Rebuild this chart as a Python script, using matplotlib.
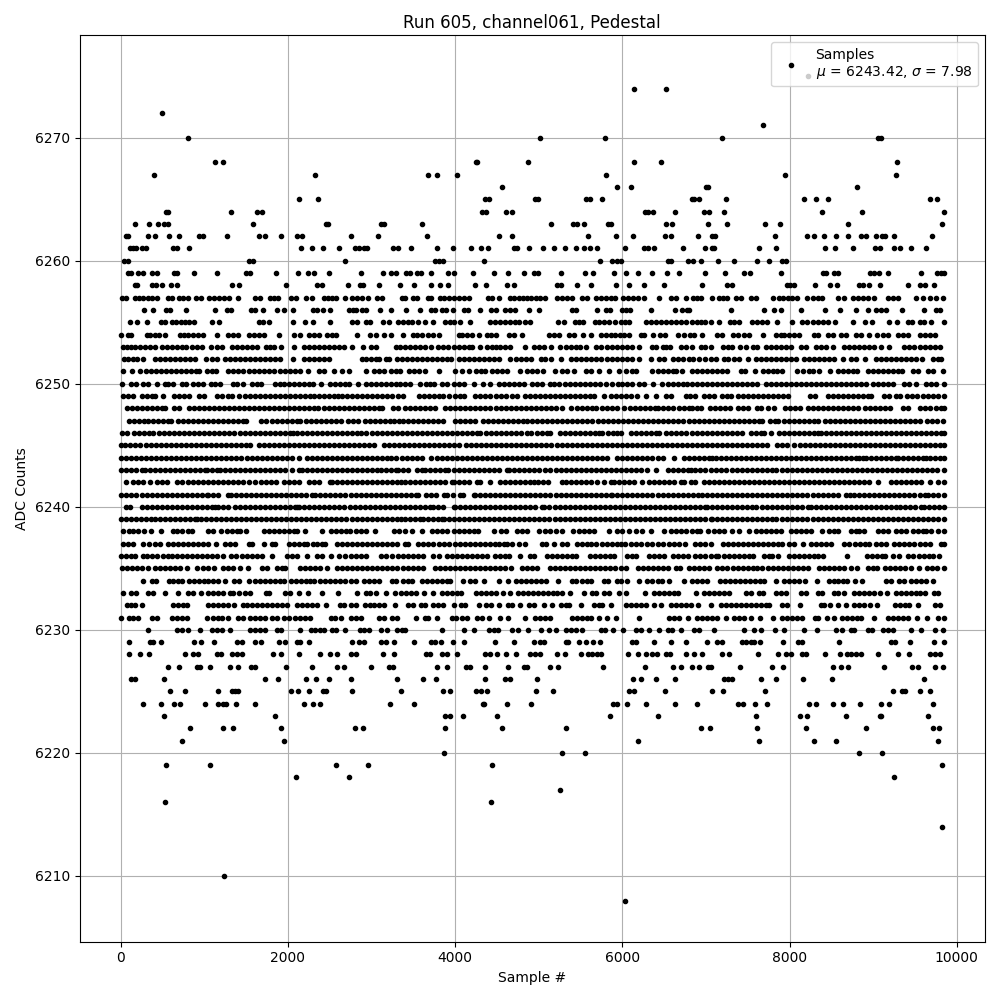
import numpy as np
import matplotlib
matplotlib.use("Agg")
import matplotlib.pyplot as plt

# sample numbers, one list per ADC code
adc_6208 = [6030]
adc_6210 = [1241]
adc_6214 = [9822]
adc_6216 = [533, 4433]
adc_6217 = [5250]
adc_6218 = [2093, 2729, 9246]
adc_6219 = [545, 1073, 2573, 2957, 4445, 9822]
adc_6220 = [3869, 5274, 5550, 8826, 9102]
adc_6221 = [737, 1949, 6186, 7638, 8298, 8562, 9774]
adc_6222 = [833, 1229, 1349, 1913, 2801, 2897, 3881, 4565, 5322, 6942, 7050, 7614, 8202, 8910, 9714, 9786]
adc_6223 = [521, 1841, 3881, 3941, 4097, 4505, 5850, 6426, 7602, 8130, 8214, 8670, 9078, 9098, 9654]
adc_6224 = [269, 485, 641, 713, 1013, 1169, 1229, 1265, 1385, 1601, 2189, 2297, 2381, 3221, 3509, 4337, 4349, 4625, 4913,
            5886, 5934, 6054, 6282, 6630, 6894, 7386, 7446, 7590, 7734, 8238, 8322, 8526, 8634, 8838, 9090, 9186, 9714]
adc_6225 = [593, 773, 1169, 1337, 1373, 1409, 2033, 2117, 2249, 2417, 2453, 2765, 3353, 3857, 3941, 4253, 4313, 4385, 4973,
            5166, 6078, 6138, 6510, 7074, 7206, 7710, 9234, 9342, 9378, 9558, 9678]
adc_6226 = [129, 177, 521, 1721, 1877, 2213, 2333, 2489, 2753, 3305, 3621, 3777, 4353, 4601, 4653, 4977, 6129, 6225, 6405,
            6633, 7215, 7267, 7315, 7659, 7839, 8163, 8511, 9603]
adc_6227 = [569, 701, 909, 949, 1073, 1313, 1409, 1561, 1609, 1973, 2285, 2589, 2669, 2993, 3209, 3261, 3789, 3901, 4133,
            4173, 4361, 4629, 4821, 4861, 5133, 5233, 5769, 6273, 6609, 6705, 6835, 6915, 7023, 7055, 7407, 7791, 7923,
            8523, 8619, 8703, 9135, 9471, 9535, 9735, 9831]
adc_6228 = [101, 229, 337, 773, 861, 929, 1149, 1201, 1329, 1389, 1449, 1821, 1913, 2129, 2381, 2501, 2585, 2749, 2809,
            3141, 3269, 3653, 3701, 3841, 3901, 4025, 4361, 4413, 4497, 4605, 4725, 4901, 4961, 5013, 5217, 5313, 5501,
            5589, 5641, 5693, 5741, 6069, 6189, 6281, 6361, 6413, 6521, 6573, 6759, 6855, 6951, 7191, 7279, 7627, 7863,
            7955, 8023, 8155, 8195, 8419, 8607, 8687, 8735, 8795, 8859, 9059, 9299, 9435, 9675, 9735, 9795]
adc_6229 = [101, 349, 389, 485, 881, 961, 1121, 1397, 1449, 1601, 1673, 1897, 1969, 2109, 2149, 2249, 2765, 2849, 2909,
            3109, 3169, 3269, 3513, 3709, 3761, 3829, 3969, 4101, 4473, 4701, 4941, 5013, 5069, 5321, 5349, 5481, 5565,
            5649, 5733, 6121, 6161, 6381, 6585, 6767, 7015, 7127, 7195, 7435, 7475, 7535, 7575, 7647, 7923, 8103, 8155,
            8595, 9215, 9267, 9447, 9723, 9843]
adc_6230 = [329, 677, 737, 809, 953, 1089, 1149, 1209, 1309, 1549, 1609, 1669, 1729, 1869, 1917, 2141, 2277, 2329, 2389,
            2437, 2529, 2581, 2681, 2861, 2909, 2969, 3117, 3181, 3309, 3361, 3401, 3849, 4101, 4221, 4401, 4461, 4509,
            4681, 4749, 4869, 5025, 5121, 5201, 5329, 5381, 5441, 5517, 5741, 5789, 5893, 6009, 6161, 6221, 6321, 6441,
            6541, 6589, 6705, 6855, 6915, 7095, 7451, 7575, 7659, 7827, 7935, 8175, 8331, 8559, 8623, 8735, 8775, 8935,
            8983, 9115, 9175, 9235, 9459, 9571, 9735, 9831]
adc_6231 = [0, 101, 149, 209, 377, 429, 617, 677, 737, 789, 1029, 1101, 1161, 1209, 1289, 1409, 1469, 1549, 1609, 1669,
            1729, 1809, 1869, 1949, 2009, 2089, 2149, 2209, 2269, 2517, 2569, 2637, 2757, 2809, 2869, 3089, 3149, 3249,
            3309, 3529, 3641, 3681, 3785, 3961, 4009, 4081, 4141, 4261, 4321, 4401, 4537, 4629, 4833, 4953, 5021, 5081,
            5141, 5401, 5461, 5521, 5581, 5621, 5721, 5817, 5925, 6201, 6561, 6621, 6681, 6781, 6895, 6955, 7015, 7075,
            7135, 7243, 7335, 7395, 7455, 7535, 7647, 7803, 7915, 7975, 8035, 8095, 8155, 8303, 8343, 8443, 8535, 8623,
            8683, 8743, 8803, 8855, 9015, 9175, 9235, 9295, 9355, 9415, 9519, 9639, 9775, 9843]
adc_6232 = [77, 129, 169, 249, 629, 689, 749, 797, 1049, 1109, 1169, 1229, 1289, 1361, 1461, 1509, 1569, 1629, 1689, 1749,
            1809, 1869, 1929, 1989, 2109, 2169, 2229, 2289, 2349, 2457, 2621, 2669, 2749, 2809, 2917, 2977, 3029, 3089,
            3149, 3277, 3441, 3493, 3589, 3641, 3741, 3801, 3861, 3981, 4069, 4121, 4281, 4373, 4429, 4521, 4629, 4681,
            4781, 4881, 4949, 5061, 5165, 5261, 5321, 5361, 5505, 5661, 5721, 5761, 5865, 6041, 6101, 6161, 6221, 6281,
            6381, 6465, 6581, 6641, 6701, 6761, 6823, 6903, 7059, 7183, 7243, 7303, 7363, 7423, 7483, 7543, 7603, 7663,
            7723, 7755, 7915, 7975, 8127, 8375, 8415, 8487, 8583, 8679, 8775, 8835, 8887, 8967, 9051, 9263, 9323, 9383,
            9435, 9531, 9735, 9795]
adc_6233 = [29, 129, 189, 329, 389, 533, 689, 809, 861, 965, 1049, 1109, 1169, 1229, 1309, 1349, 1421, 1481, 1541, 1737,
            1769, 1961, 2029, 2137, 2237, 2409, 2597, 2829, 2933, 2981, 3049, 3169, 3277, 3353, 3413, 3473, 3533, 3633,
            3741, 3841, 3901, 3961, 4021, 4069, 4253, 4313, 4373, 4433, 4493, 4569, 4661, 4749, 4809, 4869, 4929, 4989,
            5049, 5109, 5169, 5221, 5281, 5373, 5541, 5641, 5689, 5781, 5841, 5961, 6045, 6269, 6381, 6441, 6501, 6561,
            6621, 6669, 6879, 6975, 7035, 7095, 7155, 7215, 7275, 7475, 7535, 7635, 7683, 7835, 7895, 7955, 8135, 8195,
            8335, 8383, 8535, 8583, 8655, 8775, 8835, 8895, 8955, 9015, 9087, 9171, 9275, 9335, 9395, 9455, 9515, 9555,
            9615, 9723, 9775]
adc_6234 = [269, 369, 417, 581, 629, 689, 737, 821, 881, 941, 1001, 1049, 1101, 1169, 1249, 1357, 1417, 1529, 1609, 1669,
            1729, 1789, 1849, 1909, 1957, 2037, 2097, 2157, 2217, 2269, 2317, 2389, 2449, 2509, 2569, 2629, 2689, 2749,
            2809, 2909, 2969, 3029, 3089, 3249, 3289, 3381, 3441, 3481, 3601, 3661, 3721, 3781, 3841, 3901, 3941, 4089,
            4173, 4233, 4341, 4521, 4629, 4733, 4793, 4853, 4913, 4973, 5033, 5093, 5229, 5401, 5449, 5521, 5581, 5629,
            5781, 5833, 5941, 5989, 6053, 6201, 6301, 6361, 6421, 6469, 6561, 6743, 6835, 6895, 6955, 7015, 7167, 7227,
            7287, 7347, 7407, 7467, 7527, 7587, 7647, 7695, 7835, 7935, 7995, 8055, 8115, 8183, 8331, 8475, 8535, 8583,
            8635, 8683, 8779, 8871, 9155, 9215, 9315, 9375, 9455, 9515, 9575, 9627, 9715]
adc_6235 = [17, 77, 137, 197, 257, 329, 409, 469, 529, 589, 649, 709, 797, 909, 989, 1049, 1121, 1229, 1289, 1349, 1429,
            1517, 1689, 1749, 1869, 1929, 1969, 2149, 2209, 2269, 2329, 2389, 2469, 2589, 2649, 2709, 2769, 2829, 2889,
            2949, 3009, 3069, 3129, 3189, 3249, 3309, 3381, 3441, 3501, 3561, 3621, 3761, 3821, 3881, 3941, 4001, 4061,
            4121, 4181, 4241, 4301, 4361, 4421, 4481, 4541, 4601, 4673, 4801, 4861, 4921, 4981, 5133, 5193, 5253, 5313,
            5373, 5433, 5493, 5553, 5613, 5673, 5733, 5793, 5853, 5913, 5981, 6049, 6189, 6249, 6309, 6369, 6429, 6481,
            6549, 6641, 6693, 6795, 6855, 6915, 6975, 7035, 7135, 7195, 7255, 7327, 7387, 7447, 7507, 7567, 7615, 7675,
            7743, 7803, 7863, 7923, 7983, 8043, 8103, 8163, 8223, 8355, 8415, 8475, 8535, 8595, 8655, 8735, 8811, 8935,
            8995, 9043, 9143, 9203, 9263, 9323, 9383, 9455, 9543, 9647, 9707, 9767, 9843]
adc_6236 = [9, 69, 129, 169, 261, 309, 369, 429, 509, 569, 617, 677, 737, 797, 857, 917, 977, 1037, 1097, 1157, 1229, 1317,
            1377, 1449, 1509, 1569, 1629, 1689, 1809, 1989, 2049, 2109, 2229, 2349, 2409, 2517, 2609, 2689, 2749, 2809,
            2869, 2929, 3117, 3177, 3249, 3321, 3381, 3441, 3501, 3561, 3621, 3741, 3813, 3901, 3961, 4021, 4081, 4141,
            4201, 4261, 4321, 4381, 4481, 4541, 4601, 4641, 4781, 4901, 4941, 5101, 5161, 5221, 5281, 5341, 5401, 5441,
            5609, 5669, 5729, 5789, 5849, 5901, 6053, 6113, 6161, 6321, 6381, 6441, 6501, 6601, 6661, 6721, 6781, 6875,
            6935, 6995, 7055, 7115, 7147, 7215, 7275, 7335, 7395, 7455, 7515, 7567, 7695, 7755, 7787, 7863, 7995, 8055,
            8115, 8175, 8235, 8295, 8335, 8395, 8691, 8923, 8983, 9043, 9103, 9143, 9235, 9315, 9423, 9483, 9543, 9603,
            9663, 9715, 9783]
adc_6237 = [29, 89, 149, 269, 341, 409, 469, 569, 629, 689, 749, 809, 869, 929, 989, 1049, 1141, 1249, 1309, 1369, 1529,
            1569, 1709, 1809, 1849, 2009, 2069, 2129, 2189, 2229, 2297, 2349, 2409, 2449, 2589, 2649, 2709, 2769, 2829,
            2889, 2949, 3009, 3069, 3129, 3189, 3249, 3309, 3401, 3441, 3561, 3621, 3681, 3741, 3813, 3873, 3933, 3993,
            4053, 4113, 4173, 4233, 4293, 4353, 4413, 4473, 4521, 4581, 4621, 4681, 4761, 4833, 5041, 5093, 5181, 5281,
            5341, 5461, 5521, 5581, 5621, 5681, 5761, 5821, 5881, 5941, 5989, 6029, 6101, 6161, 6221, 6301, 6361, 6421,
            6481, 6561, 6621, 6681, 6755, 6875, 6935, 6995, 7055, 7207, 7267, 7327, 7387, 7447, 7507, 7567, 7627, 7687,
            7747, 7807, 7867, 7907, 7995, 8055, 8163, 8255, 8315, 8375, 8435, 8495, 8655, 8715, 8783, 8843, 8903, 8947,
            9035, 9095, 9155, 9255, 9315, 9375, 9435, 9495, 9555, 9615, 9675, 9807, 9843]
adc_6238 = [29, 101, 149, 209, 281, 361, 485, 621, 677, 729, 809, 849, 1049, 1109, 1197, 1269, 1329, 1389, 1429, 1493, 1709,
            1769, 1829, 1889, 1949, 2009, 2069, 2109, 2201, 2405, 2517, 2577, 2637, 2697, 2737, 2809, 2869, 2929, 3037,
            3269, 3329, 3401, 3489, 3609, 3721, 3781, 3841, 3901, 3981, 4041, 4101, 4161, 4221, 4269, 4461, 4549, 4609,
            4741, 4801, 4861, 5009, 5081, 5141, 5201, 5281, 5413, 5481, 5541, 5601, 5661, 5841, 5941, 6001, 6081, 6161,
            6241, 6341, 6501, 6581, 6641, 6701, 6761, 6835, 6895, 6935, 7027, 7095, 7155, 7215, 7315, 7395, 7511, 7595,
            7655, 7715, 7775, 7835, 7895, 8023, 8083, 8143, 8203, 8255, 8391, 8475, 8535, 8583, 8735, 8795, 8835, 8895,
            9055, 9115, 9183, 9275, 9335, 9395, 9475, 9535, 9595, 9635, 9695, 9775, 9843]
adc_6239 = [5, 65, 125, 185, 245, 305, 365, 409, 469, 529, 589, 649, 709, 769, 829, 889, 909, 961, 1021, 1081, 1141, 1201,
            1261, 1321, 1381, 1441, 1501, 1561, 1621, 1681, 1741, 1801, 1861, 1921, 1981, 2041, 2101, 2161, 2221, 2281,
            2341, 2401, 2461, 2521, 2581, 2641, 2701, 2761, 2821, 2881, 2941, 3001, 3061, 3121, 3181, 3241, 3301, 3349,
            3401, 3461, 3521, 3581, 3621, 3681, 3741, 3801, 3841, 3869, 3929, 3989, 4049, 4109, 4169, 4229, 4289, 4349,
            4409, 4469, 4529, 4589, 4649, 4709, 4769, 4829, 4889, 4949, 5009, 5069, 5129, 5189, 5249, 5309, 5369, 5429,
            5489, 5549, 5609, 5669, 5729, 5789, 5849, 5909, 5969, 6029, 6089, 6149, 6209, 6269, 6329, 6389, 6449, 6509,
            6569, 6629, 6689, 6749, 6809, 6869, 6929, 6989, 7055, 7075, 7135, 7195, 7255, 7315, 7375, 7435, 7495, 7555,
            7615, 7675, 7735, 7795, 7835, 7915, 7975, 8035, 8095, 8155, 8215, 8275, 8335, 8395, 8455, 8515, 8575, 8635,
            8695, 8755, 8815, 8875, 8935, 8995, 9055, 9115, 9175, 9235, 9295, 9355, 9415, 9475, 9535, 9595, 9655, 9715,
            9775, 9843]
adc_6240 = [61, 117, 257, 317, 377, 437, 497, 557, 617, 677, 737, 797, 857, 917, 977, 1037, 1097, 1129, 1169, 1229, 1289,
            1369, 1429, 1489, 1549, 1609, 1669, 1729, 1789, 1849, 1909, 1969, 2029, 2089, 2109, 2137, 2197, 2257, 2317,
            2377, 2437, 2497, 2557, 2617, 2677, 2737, 2797, 2857, 2917, 2977, 3037, 3097, 3157, 3217, 3277, 3337, 3397,
            3457, 3517, 3577, 3637, 3697, 3733, 3801, 3861, 3981, 4001, 4061, 4121, 4181, 4241, 4301, 4361, 4421, 4481,
            4541, 4601, 4661, 4721, 4781, 4841, 4901, 4961, 5041, 5069, 5129, 5189, 5249, 5309, 5369, 5429, 5489, 5549,
            5609, 5669, 5729, 5789, 5849, 5909, 5969, 6029, 6089, 6149, 6209, 6269, 6329, 6389, 6449, 6509, 6569, 6629,
            6689, 6749, 6809, 6875, 6935, 6995, 7015, 7075, 7135, 7195, 7255, 7315, 7375, 7435, 7495, 7555, 7595, 7667,
            7727, 7787, 7847, 7907, 7967, 8027, 8087, 8147, 8223, 8255, 8315, 8375, 8435, 8495, 8555, 8615, 8675, 8735,
            8795, 8855, 8915, 8975, 9035, 9095, 9155, 9215, 9275, 9323, 9383, 9443, 9503, 9567, 9603, 9663, 9723, 9783,
            9843]
adc_6241 = [9, 69, 129, 189, 249, 309, 369, 429, 489, 549, 609, 669, 729, 789, 849, 909, 969, 1029, 1049, 1109, 1169, 1289,
            1321, 1381, 1441, 1501, 1561, 1621, 1681, 1741, 1801, 1861, 1921, 1981, 2041, 2101, 2161, 2221, 2289, 2329,
            2389, 2449, 2509, 2569, 2629, 2689, 2749, 2809, 2869, 2929, 2989, 3049, 3109, 3169, 3229, 3289, 3349, 3409,
            3469, 3529, 3561, 3653, 3713, 3773, 3873, 3909, 3969, 4061, 4093, 4221, 4241, 4301, 4361, 4421, 4481, 4541,
            4601, 4661, 4721, 4781, 4841, 4901, 4961, 5021, 5081, 5141, 5201, 5261, 5321, 5381, 5441, 5501, 5561, 5621,
            5681, 5741, 5801, 5861, 5881, 5941, 6001, 6061, 6121, 6181, 6241, 6301, 6361, 6421, 6481, 6541, 6601, 6661,
            6721, 6781, 6841, 6901, 6955, 7015, 7075, 7135, 7195, 7255, 7315, 7375, 7435, 7495, 7555, 7615, 7675, 7735,
            7795, 7855, 7915, 7975, 8035, 8095, 8155, 8215, 8275, 8335, 8395, 8455, 8515, 8575, 8675, 8723, 8775, 8835,
            8895, 8955, 9015, 9075, 9135, 9195, 9255, 9315, 9375, 9435, 9495, 9555, 9615, 9655, 9715, 9775, 9843]
adc_6242 = [69, 149, 209, 269, 349, 437, 497, 557, 677, 737, 809, 869, 929, 989, 1049, 1109, 1169, 1229, 1289, 1349, 1409,
            1469, 1529, 1609, 1677, 1737, 1797, 1857, 1949, 2009, 2069, 2129, 2249, 2309, 2369, 2501, 2529, 2589, 2649,
            2709, 2769, 2829, 2889, 2949, 3009, 3069, 3129, 3189, 3249, 3309, 3349, 3401, 3461, 3521, 3581, 3641, 3701,
            3761, 3821, 3881, 3961, 3981, 4041, 4101, 4161, 4261, 4293, 4421, 4541, 4601, 4661, 4721, 4781, 4841, 4901,
            4941, 4993, 5053, 5113, 5281, 5321, 5381, 5441, 5501, 5561, 5621, 5701, 5781, 5861, 5901, 5961, 6021, 6081,
            6141, 6241, 6321, 6381, 6441, 6501, 6561, 6621, 6701, 6741, 6821, 6867, 6975, 7035, 7095, 7155, 7215, 7275,
            7335, 7395, 7455, 7515, 7575, 7635, 7695, 7755, 7815, 7875, 7935, 7995, 8055, 8115, 8175, 8235, 8295, 8355,
            8415, 8475, 8535, 8595, 8655, 8715, 8775, 8835, 8895, 8955, 9055, 9215, 9275, 9335, 9395, 9455, 9515, 9575,
            9675, 9775, 9843]
adc_6243 = [9, 69, 129, 189, 249, 289, 349, 409, 469, 529, 589, 649, 709, 769, 829, 889, 949, 1009, 1029, 1089, 1149, 1189,
            1249, 1309, 1369, 1429, 1489, 1549, 1609, 1669, 1729, 1789, 1849, 1909, 1969, 2049, 2129, 2169, 2229, 2289,
            2349, 2409, 2469, 2529, 2589, 2649, 2709, 2769, 2829, 2889, 2949, 3009, 3069, 3109, 3169, 3229, 3289, 3321,
            3381, 3441, 3541, 3601, 3641, 3701, 3761, 3821, 3881, 3921, 3981, 4041, 4101, 4161, 4221, 4281, 4341, 4401,
            4461, 4521, 4621, 4641, 4701, 4761, 4821, 4881, 4941, 5001, 5081, 5141, 5201, 5261, 5321, 5381, 5441, 5501,
            5561, 5621, 5681, 5741, 5801, 5861, 5921, 5981, 6041, 6101, 6161, 6221, 6301, 6401, 6541, 6601, 6661, 6721,
            6781, 6821, 6875, 6935, 6995, 7055, 7115, 7175, 7235, 7315, 7375, 7435, 7495, 7555, 7615, 7675, 7735, 7795,
            7835, 7915, 7967, 8027, 8087, 8147, 8207, 8267, 8327, 8387, 8447, 8507, 8567, 8627, 8687, 8747, 8807, 8867,
            8927, 8987, 9047, 9107, 9167, 9227, 9287, 9347, 9407, 9467, 9527, 9587, 9647, 9707, 9767, 9843]
adc_6244 = [5, 65, 125, 185, 245, 305, 365, 425, 485, 545, 605, 665, 725, 785, 845, 905, 965, 1025, 1085, 1145, 1205, 1265,
            1325, 1385, 1445, 1505, 1565, 1625, 1685, 1745, 1805, 1865, 1925, 1985, 2045, 2129, 2229, 2289, 2349, 2409,
            2469, 2529, 2589, 2649, 2709, 2769, 2829, 2889, 2949, 3009, 3069, 3129, 3189, 3229, 3289, 3361, 3421, 3481,
            3541, 3601, 3709, 3781, 3841, 3901, 3961, 4021, 4081, 4141, 4201, 4261, 4321, 4381, 4441, 4501, 4561, 4621,
            4681, 4741, 4801, 4861, 4921, 4981, 5041, 5101, 5161, 5221, 5281, 5341, 5401, 5461, 5521, 5581, 5641, 5701,
            5761, 5821, 5941, 6001, 6061, 6121, 6181, 6241, 6301, 6361, 6421, 6481, 6621, 6741, 6795, 6855, 6915, 6975,
            7035, 7075, 7115, 7175, 7235, 7295, 7355, 7415, 7475, 7535, 7595, 7655, 7715, 7775, 7835, 7895, 7955, 8015,
            8075, 8135, 8195, 8255, 8315, 8375, 8435, 8495, 8555, 8615, 8675, 8735, 8795, 8835, 8875, 8915, 8975, 9035,
            9095, 9155, 9215, 9275, 9295, 9355, 9415, 9475, 9535, 9595, 9635, 9675, 9735, 9795, 9843]
adc_6245 = [5, 57, 117, 177, 237, 297, 357, 417, 477, 537, 597, 657, 717, 777, 837, 897, 957, 1017, 1077, 1137, 1197, 1257,
            1317, 1377, 1437, 1497, 1549, 1649, 1709, 1769, 1829, 1889, 1949, 2009, 2069, 2129, 2189, 2249, 2309, 2369,
            2429, 2489, 2549, 2609, 2669, 2729, 2789, 2849, 2909, 2969, 3029, 3149, 3209, 3269, 3329, 3389, 3449, 3509,
            3569, 3629, 3689, 3749, 3809, 3869, 3929, 3989, 4049, 4133, 4193, 4253, 4313, 4373, 4433, 4493, 4553, 4613,
            4673, 4733, 4793, 4853, 4913, 4973, 5033, 5093, 5153, 5213, 5273, 5333, 5393, 5453, 5513, 5573, 5633, 5693,
            5753, 5813, 5873, 5933, 5993, 6053, 6113, 6173, 6233, 6293, 6353, 6413, 6473, 6533, 6593, 6653, 6713, 6773,
            6833, 6893, 6953, 7013, 7073, 7133, 7193, 7253, 7313, 7373, 7433, 7493, 7553, 7613, 7673, 7733, 7855, 7915,
            7965, 8050, 8120, 8185, 8245, 8305, 8365, 8425, 8485, 8545, 8605, 8665, 8725, 8785, 8845, 8905, 8965, 9025,
            9085, 9145, 9205, 9265, 9325, 9385, 9445, 9505, 9565, 9625, 9685, 9745, 9805, 9843]
adc_6246 = [17, 77, 157, 217, 277, 337, 389, 457, 517, 577, 637, 697, 757, 817, 877, 937, 997, 1057, 1117, 1177, 1237, 1297,
            1357, 1429, 1489, 1549, 1609, 1669, 1729, 1789, 1849, 1909, 1969, 2029, 2057, 2109, 2169, 2229, 2289, 2349,
            2409, 2469, 2529, 2589, 2649, 2709, 2769, 2829, 2877, 2937, 3009, 3069, 3129, 3189, 3249, 3301, 3361, 3421,
            3481, 3541, 3601, 3661, 3721, 3781, 3841, 3901, 3961, 4021, 4081, 4141, 4201, 4261, 4301, 4373, 4433, 4493,
            4553, 4613, 4673, 4733, 4793, 4861, 4909, 4981, 5041, 5101, 5141, 5249, 5309, 5369, 5429, 5489, 5549, 5609,
            5669, 5721, 5761, 5829, 5889, 5933, 5989, 6101, 6161, 6221, 6281, 6341, 6401, 6441, 6521, 6581, 6641, 6701,
            6761, 6835, 6895, 6955, 7015, 7075, 7135, 7195, 7255, 7315, 7375, 7435, 7535, 7595, 7655, 7695, 7775, 7875,
            7935, 7995, 8055, 8115, 8175, 8235, 8295, 8335, 8375, 8435, 8495, 8555, 8615, 8675, 8735, 8795, 8855, 8915,
            8975, 9035, 9095, 9155, 9215, 9275, 9335, 9395, 9455, 9515, 9575, 9635, 9695, 9755, 9815, 9843]
adc_6247 = [101, 161, 221, 281, 321, 389, 449, 509, 569, 601, 689, 749, 809, 869, 929, 989, 1049, 1109, 1169, 1229, 1289,
            1349, 1409, 1469, 1501, 1677, 1737, 1809, 1869, 1929, 1989, 2049, 2109, 2149, 2217, 2277, 2337, 2397, 2457,
            2517, 2577, 2637, 2717, 2777, 2837, 2917, 2977, 3037, 3097, 3157, 3217, 3269, 3329, 3381, 3441, 3501, 3561,
            3621, 3681, 3741, 3801, 3861, 4001, 4061, 4121, 4181, 4241, 4329, 4389, 4449, 4509, 4569, 4629, 4689, 4749,
            4809, 4861, 4921, 4981, 5041, 5101, 5161, 5221, 5281, 5341, 5401, 5461, 5521, 5581, 5641, 5709, 5769, 5829,
            5889, 5949, 6009, 6069, 6129, 6189, 6249, 6309, 6369, 6429, 6489, 6549, 6609, 6669, 6729, 6795, 6855, 6915,
            6975, 7035, 7095, 7155, 7215, 7275, 7335, 7395, 7455, 7515, 7575, 7635, 7675, 7767, 7827, 7867, 7935, 7995,
            8055, 8115, 8175, 8235, 8295, 8343, 8423, 8483, 8543, 8603, 8663, 8723, 8783, 8843, 8903, 8963, 9023, 9083,
            9143, 9203, 9263, 9323, 9383, 9443, 9503, 9555, 9647, 9707, 9767, 9835]
adc_6248 = [77, 137, 197, 257, 317, 377, 437, 497, 529, 637, 697, 817, 877, 937, 997, 1057, 1117, 1177, 1237, 1297, 1357,
            1417, 1477, 1537, 1597, 1657, 1717, 1777, 1829, 1889, 1949, 2009, 2069, 2129, 2189, 2249, 2309, 2357, 2429,
            2489, 2549, 2609, 2669, 2729, 2789, 2849, 2909, 2969, 3029, 3089, 3129, 3261, 3321, 3401, 3461, 3521, 3581,
            3641, 3701, 3761, 3881, 3941, 4001, 4061, 4121, 4181, 4241, 4301, 4361, 4421, 4489, 4549, 4609, 4669, 4729,
            4789, 4849, 4909, 4969, 5029, 5089, 5149, 5209, 5281, 5389, 5453, 5513, 5573, 5633, 5681, 5761, 5821, 5881,
            5941, 6021, 6089, 6149, 6209, 6269, 6329, 6389, 6421, 6481, 6541, 6601, 6681, 6741, 6795, 6835, 6895, 6943,
            7047, 7107, 7167, 7227, 7287, 7383, 7443, 7503, 7607, 7655, 7743, 7815, 7943, 8003, 8063, 8123, 8223, 8283,
            8343, 8403, 8463, 8523, 8583, 8643, 8695, 8755, 8815, 8903, 8963, 9023, 9083, 9143, 9203, 9363, 9423, 9555,
            9615, 9675, 9755, 9815, 9843]
adc_6249 = [29, 89, 149, 249, 317, 369, 409, 509, 637, 697, 757, 817, 937, 997, 1157, 1217, 1289, 1337, 1421, 1481, 1549,
            1609, 1669, 1729, 1789, 1849, 1909, 1969, 2029, 2089, 2149, 2209, 2269, 2309, 2369, 2429, 2489, 2549, 2597,
            2649, 2709, 2769, 2829, 2889, 2949, 3009, 3069, 3129, 3189, 3249, 3321, 3381, 3573, 3633, 3693, 3753, 3813,
            3861, 3933, 3993, 4053, 4109, 4233, 4301, 4361, 4421, 4493, 4553, 4613, 4681, 4741, 4833, 4893, 4953, 5013,
            5073, 5133, 5193, 5253, 5313, 5373, 5433, 5493, 5553, 5613, 5661, 5781, 5869, 5929, 5989, 6049, 6101, 6181,
            6289, 6401, 6521, 6581, 6761, 6815, 6875, 6975, 7035, 7095, 7195, 7255, 7303, 7383, 7443, 7503, 7563, 7623,
            7683, 7743, 7803, 7863, 7923, 7983, 8247, 8303, 8455, 8515, 8575, 8635, 8695, 8755, 8815, 8875, 8935, 8975,
            9135, 9195, 9275, 9327, 9407, 9467, 9527, 9595, 9655, 9715, 9775, 9843]
adc_6250 = [21, 129, 189, 269, 329, 429, 529, 569, 629, 729, 781, 869, 929, 989, 1077, 1129, 1189, 1349, 1397, 1469, 1569,
            1629, 1677, 1849, 1901, 1949, 2009, 2069, 2129, 2189, 2249, 2301, 2401, 2509, 2569, 2629, 2689, 2729, 2837,
            2929, 2989, 3049, 3109, 3169, 3229, 3289, 3341, 3401, 3461, 3581, 3653, 3701, 3753, 3841, 3901, 3981, 4041,
            4101, 4221, 4329, 4421, 4521, 4581, 4641, 4701, 4761, 4821, 4921, 4981, 5041, 5133, 5181, 5241, 5309, 5369,
            5429, 5489, 5549, 5609, 5669, 5729, 5801, 5881, 5953, 6001, 6061, 6121, 6201, 6261, 6369, 6477, 6541, 6601,
            6661, 6721, 6775, 6835, 6895, 6955, 7015, 7075, 7135, 7195, 7255, 7315, 7367, 7435, 7495, 7555, 7615, 7715,
            7775, 7835, 7895, 7955, 8015, 8075, 8135, 8195, 8255, 8315, 8375, 8435, 8495, 8555, 8615, 8675, 8735, 8795,
            8855, 8915, 8995, 9055, 9115, 9175, 9235, 9375, 9435, 9515, 9627, 9687, 9755, 9843]
adc_6251 = [29, 137, 237, 297, 357, 417, 477, 537, 597, 657, 717, 777, 837, 897, 941, 1029, 1089, 1137, 1289, 1349, 1409,
            1469, 1529, 1589, 1649, 1709, 1769, 1829, 1909, 1969, 2029, 2089, 2141, 2237, 2369, 2429, 2549, 2649, 2729,
            2929, 3029, 3089, 3149, 3229, 3289, 3341, 3453, 3513, 3573, 3641, 3813, 4001, 4081, 4161, 4253, 4309, 4361,
            4441, 4501, 4561, 4621, 4773, 4861, 4921, 4981, 5053, 5193, 5281, 5341, 5421, 5561, 5621, 5721, 5841, 5961,
            6041, 6121, 6161, 6361, 6421, 6481, 6541, 6601, 6641, 6717, 6835, 6895, 6955, 7015, 7075, 7135, 7195, 7247,
            7415, 7463, 7583, 7687, 7747, 7807, 7847, 7915, 8095, 8167, 8235, 8283, 8355, 8487, 8575, 8635, 8695, 8755,
            8807, 8935, 8995, 9055, 9115, 9175, 9235, 9295, 9343, 9475, 9535, 9655, 9715, 9835]
adc_6252 = [37, 89, 149, 197, 269, 409, 469, 529, 589, 649, 709, 769, 829, 889, 1021, 1089, 1149, 1249, 1309, 1369, 1429,
            1489, 1549, 1609, 1669, 1729, 1789, 1849, 1909, 2057, 2189, 2249, 2309, 2369, 2429, 2489, 2881, 2929, 2989,
            3049, 3089, 3169, 3209, 3301, 3361, 3421, 3481, 3541, 3601, 3661, 3721, 3781, 3841, 3901, 3949, 4041, 4101,
            4161, 4221, 4281, 4341, 4401, 4461, 4521, 4653, 4733, 4793, 4853, 4913, 5029, 5081, 5149, 5269, 5381, 5441,
            5501, 5561, 5621, 5681, 5741, 5821, 5881, 5941, 6001, 6061, 6121, 6201, 6341, 6441, 6493, 6601, 6661, 6721,
            6795, 6847, 6915, 6995, 7055, 7115, 7215, 7267, 7335, 7395, 7507, 7595, 7655, 7715, 7775, 7835, 7895, 7955,
            8015, 8075, 8175, 8235, 8295, 8355, 8415, 8475, 8535, 8643, 8735, 8795, 8907, 9035, 9095, 9155, 9215, 9275,
            9335, 9395, 9455, 9515, 9583, 9715, 9775, 9815]
adc_6253 = [29, 77, 129, 169, 229, 289, 349, 409, 489, 549, 609, 669, 729, 777, 857, 909, 969, 1077, 1157, 1209, 1329, 1389,
            1449, 1509, 1569, 1629, 1737, 1789, 1837, 1917, 2077, 2189, 2249, 2309, 2369, 2429, 2489, 2549, 2609, 2669,
            2765, 2897, 2989, 3049, 3289, 3341, 3401, 3461, 3521, 3581, 3641, 3709, 3801, 3861, 3921, 3981, 4041, 4101,
            4161, 4201, 4293, 4381, 4441, 4493, 4541, 4593, 4653, 4833, 4941, 5001, 5061, 5149, 5253, 5321, 5381, 5441,
            5489, 5561, 5681, 5741, 5821, 5881, 5941, 6001, 6061, 6121, 6201, 6361, 6401, 6481, 6521, 6573, 6701, 6761,
            6835, 6943, 6995, 7055, 7207, 7263, 7315, 7407, 7475, 7567, 7615, 7715, 7775, 7835, 7895, 7955, 8015, 8135,
            8195, 8315, 8375, 8435, 8523, 8655, 8715, 8775, 8835, 8895, 8955, 9015, 9095, 9195, 9375, 9435, 9495, 9555,
            9615, 9675, 9735, 9795]
adc_6254 = [0, 89, 129, 309, 349, 409, 461, 529, 709, 757, 809, 861, 929, 989, 1157, 1289, 1349, 1409, 1537, 1589, 1649,
            1709, 1897, 2069, 2141, 2249, 2309, 2369, 2469, 2529, 2581, 2825, 2981, 3049, 3149, 3229, 3373, 3493, 3549,
            3601, 3681, 3741, 3805, 4041, 4081, 4141, 4201, 4281, 4381, 4429, 4493, 4641, 4701, 4797, 5121, 5181, 5241,
            5361, 5421, 5529, 5625, 5741, 5801, 5861, 5909, 5973, 6021, 6081, 6221, 6261, 6369, 6453, 6509, 6669, 6741,
            6807, 6855, 6955, 7135, 7195, 7323, 7383, 7455, 7515, 7683, 7835, 7895, 7935, 7995, 8055, 8115, 8287, 8343,
            8455, 8515, 8615, 8675, 8795, 8855, 8955, 9047, 9115, 9175, 9295, 9355, 9415, 9563, 9623, 9675, 9735]
adc_6255 = [117, 197, 317, 477, 529, 609, 661, 717, 769, 821, 881, 1089, 1181, 1649, 1697, 1769, 2061, 2201, 2297, 2501,
            2769, 2821, 2929, 2981, 3137, 3209, 3321, 3381, 3441, 3481, 3553, 3641, 3741, 3881, 3941, 3981, 4061, 4173,
            4421, 4481, 4541, 4601, 4661, 4721, 4761, 4833, 4893, 5229, 5301, 5433, 5481, 5533, 5669, 5721, 5781, 5841,
            5909, 5981, 6033, 6081, 6289, 6341, 6401, 6461, 6521, 6581, 6641, 6701, 6761, 6835, 6895, 6943, 6995, 7055,
            7155, 7283, 7335, 7395, 7555, 7615, 7675, 7735, 7851, 8031, 8155, 8215, 8275, 8335, 8395, 8463, 8547, 8763,
            8907, 8991, 9195, 9291, 9415, 9463, 9555, 9603, 9687, 9843]
adc_6256 = [281, 389, 537, 589, 785, 1133, 1269, 1317, 1557, 1609, 1697, 1869, 1949, 2057, 2297, 2349, 2421, 2509, 2729,
            2777, 2817, 2889, 2929, 3101, 3233, 3417, 3581, 3709, 3757, 3841, 3889, 3969, 4101, 4157, 4293, 4433, 4489,
            4601, 4653, 4713, 4881, 5001, 5401, 5445, 5697, 5801, 5849, 6001, 6049, 6093, 6345, 6633, 6713, 6769, 6795,
            7295, 7695, 7815, 7903, 8139, 8427, 8607, 8799, 8943, 9039, 9095, 9155, 9351, 9603, 9747, 9803]
adc_6257 = [17, 69, 169, 217, 269, 321, 369, 429, 561, 617, 701, 749, 809, 897, 961, 1061, 1117, 1181, 1237, 1293, 1405,
            1601, 1661, 1789, 1837, 1885, 2033, 2101, 2213, 2285, 2429, 2477, 2529, 2581, 2681, 2769, 2821, 2885, 2957,
            3069, 3121, 3361, 3401, 3501, 3541, 3681, 3713, 3821, 3873, 3933, 3981, 4041, 4101, 4161, 4389, 4441, 4521,
            4661, 4709, 4761, 4813, 4861, 4913, 4965, 5021, 5073, 5213, 5281, 5341, 5401, 5513, 5581, 5681, 5741, 5801,
            5861, 5909, 6009, 6069, 6129, 6189, 6261, 6441, 6581, 6641, 6761, 6847, 6895, 6943, 7071, 7155, 7203, 7247,
            7355, 7415, 7535, 7595, 7803, 7875, 7927, 7983, 8035, 8095, 8215, 8275, 8335, 8387, 8583, 8655, 8763, 8823,
            8883, 8943, 9015, 9183, 9243, 9295, 9507, 9595, 9683, 9755, 9835]
adc_6258 = [169, 197, 369, 417, 497, 597, 669, 1337, 1421, 1981, 2349, 2409, 2721, 2861, 2901, 3089, 3341, 3513, 3713, 3825,
            3921, 4233, 4365, 4617, 4701, 5221, 5261, 5457, 5625, 5925, 6081, 6261, 6501, 6951, 7255, 7315, 7967, 8007,
            8055, 8307, 8487, 8571, 8835, 8883, 8955, 9087, 9423, 9555, 9615, 9723]
adc_6259 = [89, 129, 209, 261, 369, 429, 637, 677, 881, 1149, 1497, 1549, 1853, 2117, 2237, 2309, 2489, 2873, 3137, 3229,
            3289, 3413, 3461, 3541, 3593, 3717, 3921, 3981, 4209, 4461, 4629, 4821, 4941, 4989, 5265, 5553, 5649, 5897,
            6045, 6189, 6357, 6537, 6681, 6987, 7227, 7455, 7527, 7899, 8395, 8439, 8535, 8583, 8967, 9015, 9075, 9183,
            9567, 9759, 9815, 9843]
adc_6260 = [37, 85, 1529, 1577, 2681, 3761, 3813, 3861, 4341, 5733, 5881, 5933, 5981, 6541, 6581, 6781, 6843, 6939, 7143,
            7335, 7611, 7755, 7915, 7955]
adc_6261 = [117, 149, 181, 249, 297, 629, 669, 821, 2153, 2285, 2417, 2609, 2801, 2849, 2909, 2949, 3257, 3317, 3473, 3785,
            3977, 4193, 4313, 4397, 4709, 4737, 4889, 5046, 5178, 5310, 5442, 5538, 5610, 5694, 6030, 6258, 6306, 6378,
            6726, 6990, 7074, 7098, 7638, 7842, 8430, 8550, 8754, 9018, 9078, 9246, 9318, 9450, 9630]
adc_6262 = [69, 85, 329, 413, 581, 701, 941, 981, 1277, 1649, 1721, 1913, 2105, 2165, 2753, 3077, 3665, 4529, 4685, 5586,
            5922, 6126, 6510, 6582, 6906, 7074, 7110, 7830, 8214, 8298, 8418, 8562, 8694, 8850, 8910, 9030, 9102, 9138,
            9246, 9702]
adc_6263 = [173, 341, 449, 521, 565, 1577, 2453, 2477, 3109, 3149, 3605, 5142, 5406, 5454, 5538, 5826, 5862, 6522, 6594,
            7026, 7254, 7710, 7890, 8694, 9822]
adc_6264 = [541, 565, 1325, 1625, 1685, 4325, 4373, 4613, 4685, 6270, 6306, 6366, 6630, 6978, 7038, 7218, 8394, 8862, 9846]
adc_6265 = [2129, 2357, 4357, 4409, 4950, 4990, 5562, 5610, 5754, 6834, 6858, 6918, 7242, 8178, 8322, 8466, 9678, 9762]
adc_6266 = [4565, 5934, 6102, 7000, 7022, 8802]
adc_6267 = [401, 2321, 3677, 3785, 4025, 5802, 7950, 9270]
adc_6268 = [1133, 1229, 4249, 4265, 4877, 6138, 6462, 9282]
adc_6270 = [809, 5010, 5790, 7194, 9058, 9090]
adc_6271 = [7686]
adc_6272 = [497]
adc_6274 = [6138, 6522]
adc_6275 = [8216]

levels = [6208, 6210, 6214, 6216, 6217, 6218, 6219, 6220, 6221, 6222, 6223, 6224, 6225, 6226, 6227, 6228, 6229, 6230,
          6231, 6232, 6233, 6234, 6235, 6236, 6237, 6238, 6239, 6240, 6241, 6242, 6243, 6244, 6245, 6246, 6247, 6248,
          6249, 6250, 6251, 6252, 6253, 6254, 6255, 6256, 6257, 6258, 6259, 6260, 6261, 6262, 6263, 6264, 6265, 6266,
          6267, 6268, 6270, 6271, 6272, 6274, 6275]
samples = [adc_6208, adc_6210, adc_6214, adc_6216, adc_6217, adc_6218, adc_6219, adc_6220, adc_6221, adc_6222, adc_6223,
           adc_6224, adc_6225, adc_6226, adc_6227, adc_6228, adc_6229, adc_6230, adc_6231, adc_6232, adc_6233, adc_6234,
           adc_6235, adc_6236, adc_6237, adc_6238, adc_6239, adc_6240, adc_6241, adc_6242, adc_6243, adc_6244, adc_6245,
           adc_6246, adc_6247, adc_6248, adc_6249, adc_6250, adc_6251, adc_6252, adc_6253, adc_6254, adc_6255, adc_6256,
           adc_6257, adc_6258, adc_6259, adc_6260, adc_6261, adc_6262, adc_6263, adc_6264, adc_6265, adc_6266, adc_6267,
           adc_6268, adc_6270, adc_6271, adc_6272, adc_6274, adc_6275]

x = np.concatenate([np.array(s, dtype=float) for s in samples])
y = np.concatenate([np.full(len(s), lvl, dtype=float) for s, lvl in zip(samples, levels)])

mean_adc = 6243.42
std_adc = 7.98

plt.figure(figsize=(10, 10))
plt.plot(x, y, 'k.', label=f'Samples\n$\\mu$ = {mean_adc:.2f}, $\\sigma$ = {std_adc:.2f}')
plt.xlabel('Sample #')
plt.ylabel('ADC Counts')
plt.title('Run 605, channel061, Pedestal', pad=5)
plt.grid(True)
plt.legend(loc='upper right')
plt.tight_layout()
plt.subplots_adjust(top=0.965)
plt.savefig('out.png', dpi=100)
